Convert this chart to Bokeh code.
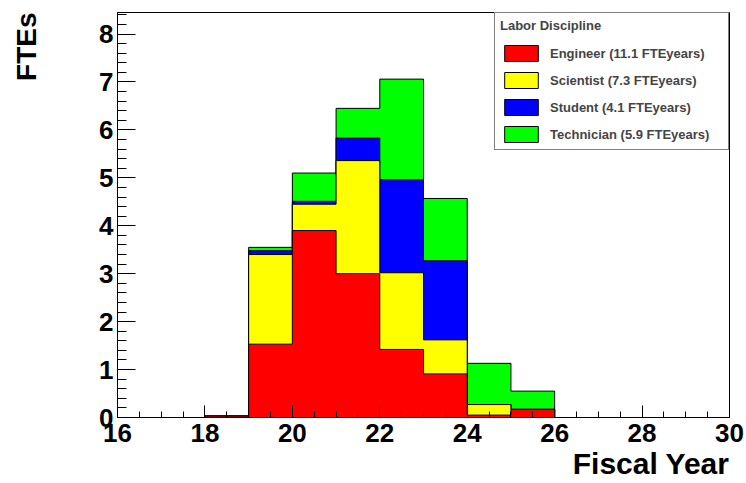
import numpy as np
from bokeh.plotting import figure
from bokeh.models import Range1d, SingleIntervalTicker, Title, Legend, LegendItem
from bokeh.embed import file_html
from bokeh.resources import INLINE

# ---- data (FTEs per fiscal-year bin, stacked) ----
bin_edges = [18, 19, 20, 21, 22, 23, 24, 25, 26]
engineer = [0.03, 1.53, 3.90, 3.00, 1.42, 0.91, 0.05, 0.17]
scientist = [0.00, 1.87, 0.55, 2.36, 1.60, 0.71, 0.22, 0.00]
student = [0.00, 0.08, 0.06, 0.47, 1.94, 1.65, 0.00, 0.00]
technician = [0.00, 0.07, 0.59, 0.62, 2.10, 1.30, 0.86, 0.38]
series_labels = ["Engineer (11.1 FTEyears)", "Scientist (7.3 FTEyears)",
                 "Student (4.1 FTEyears)", "Technician (5.9 FTEyears)"]
colors = ["#ff0000", "#ffff00", "#0000ff", "#00ff00"]
legend_title = "Labor Discipline"
x_title = "Fiscal Year"
y_title = "FTEs"

FONT = "Liberation Sans"

p = figure(width=746, height=483, output_backend="svg", toolbar_location=None,
           x_range=Range1d(16, 30), y_range=Range1d(0, 8.45),
           min_border_left=117, min_border_right=17, min_border_top=12,
           min_border_bottom=66)
p.xgrid.visible = False
p.ygrid.visible = False
p.outline_line_color = "black"
p.outline_line_width = 1
p.background_fill_color = "white"
p.border_fill_color = "white"

cum = np.cumsum(np.array([engineer, scientist, student, technician]), axis=0)


def step_outline(edges, tops):
    xs = [edges[0]]
    ys = [0.0]
    for i, t in enumerate(tops):
        xs += [edges[i], edges[i + 1]]
        ys += [float(t), float(t)]
    xs.append(edges[-1])
    ys.append(0.0)
    return xs, ys


renderers = [None] * 4
for i in [3, 2, 1, 0]:
    xs, ys = step_outline(bin_edges, cum[i])
    renderers[i] = p.patch(xs, ys, fill_color=colors[i], line_color="black",
                           line_width=1)

# axes
p.xaxis.ticker = SingleIntervalTicker(interval=2, num_minor_ticks=4)
p.yaxis.ticker = SingleIntervalTicker(interval=1, num_minor_ticks=5)
for ax in (p.xaxis[0], p.yaxis[0]):
    ax.axis_line_color = "black"
    ax.major_tick_line_color = "black"
    ax.minor_tick_line_color = "black"
    ax.major_tick_out = 0
    ax.minor_tick_out = 0
    ax.major_label_text_font = FONT
    ax.major_label_text_font_style = "bold"
    ax.major_label_text_font_size = "26px"
    ax.major_label_text_color = "black"
p.xaxis.major_tick_in = 12
p.xaxis.minor_tick_in = 6
p.yaxis.major_tick_in = 18
p.yaxis.minor_tick_in = 9
p.xaxis.major_label_standoff = 6
p.yaxis.major_label_standoff = 4

# axis titles (ROOT style: placed at the end of each axis)
p.add_layout(Title(text=x_title, align="right", text_font=FONT,
                   text_font_style="bold", text_font_size="30px",
                   text_color="black", standoff=1), "below")
# empty spacer panel between the y axis and its title
p.add_layout(Title(text=" ", text_font_size="1px", standoff=52), "left")
p.add_layout(Title(text=y_title, align="right", text_font=FONT,
                   text_font_style="bold", text_font_size="28px",
                   text_color="black", standoff=0), "left")

# legend
items = [LegendItem(label=series_labels[i], renderers=[renderers[i]]) for i in range(4)]
legend = Legend(items=items, location="top_right", title=legend_title)
legend.margin = 0
legend.padding = 5
legend.spacing = 7
legend.glyph_width = 42
legend.glyph_height = 20
legend.label_height = 20
legend.label_width = 173
legend.label_standoff = 8
legend.title_standoff = 10
legend.label_text_font = FONT
legend.label_text_font_style = "bold"
legend.label_text_font_size = "13px"
legend.title_text_font = FONT
legend.title_text_font_style = "bold"
legend.title_text_font_size = "13px"
legend.border_line_color = "black"
legend.border_line_width = 1
legend.background_fill_color = "white"
legend.background_fill_alpha = 1
p.add_layout(legend)

open("out.html", "w").write(file_html(p, INLINE))
